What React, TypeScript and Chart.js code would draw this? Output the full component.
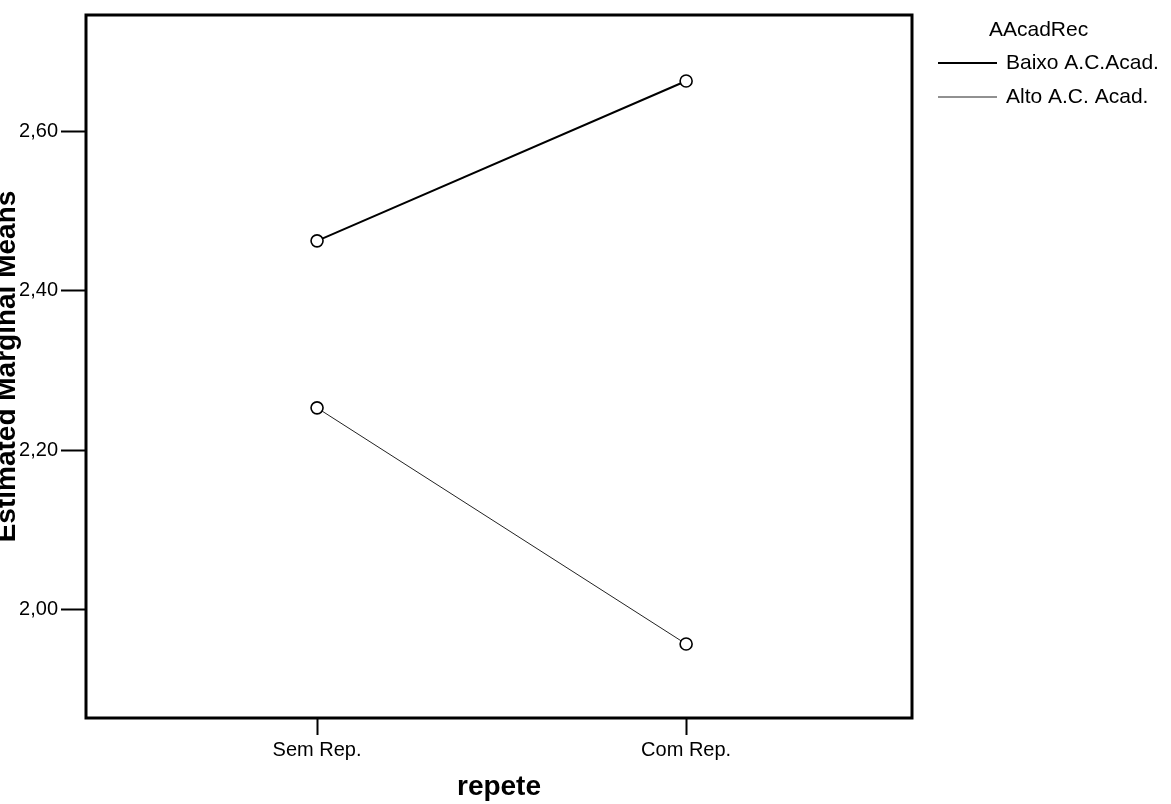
import React, { useEffect, useRef } from "react";
import { Chart, registerables } from "chart.js";

Chart.register(...registerables);

const categories = ["Sem Rep.", "Com Rep."];
const baixoValues = [2.463, 2.664];
const altoValues = [2.253, 1.956];
const yTickValues = [2.0, 2.2, 2.4, 2.6];
const seriesLabels = ["Baixo A.C.Acad.", "Alto A.C. Acad."];
const legendTitle = "AAcadRec";
const xTitle = "repete";
const yTitle = "Estimated Marginal Means";

const FONT = "'Liberation Sans', Arial, Helvetica, sans-serif";

const framePlugin = {
  id: "frame",
  afterDraw(chart: any) {
    const { ctx, chartArea } = chart;
    ctx.save();
    ctx.strokeStyle = "#000";
    ctx.lineWidth = 3;
    ctx.strokeRect(chartArea.left, chartArea.top, chartArea.right - chartArea.left, chartArea.bottom - chartArea.top);
    ctx.restore();
  },
};

const legendPlugin = {
  id: "spssLegend",
  afterDraw(chart: any) {
    const { ctx } = chart;
    ctx.save();
    ctx.fillStyle = "#000";
    ctx.font = `21px ${FONT}`;
    ctx.textBaseline = "middle";
    ctx.textAlign = "left";
    ctx.fillText(legendTitle, 989, 30);
    chart.data.datasets.forEach((ds: any, i: number) => {
      const y = 63 + i * 34;
      ctx.strokeStyle = ds.borderColor;
      ctx.lineWidth = ds.borderWidth;
      ctx.beginPath();
      ctx.moveTo(938, y);
      ctx.lineTo(997, y);
      ctx.stroke();
      ctx.fillText(ds.label, 1006, y);
    });
    ctx.restore();
  },
};

export default function App() {
  const ref = useRef<HTMLCanvasElement | null>(null);

  useEffect(() => {
    if (!ref.current) return;
    const mk = (vals: number[]) => categories.map((_, i) => ({ x: i + 1, y: vals[i] }));
    const chart = new Chart(ref.current, {
      type: "line",
      data: {
        datasets: [
          {
            label: seriesLabels[0],
            data: mk(baixoValues),
            borderColor: "#000",
            borderWidth: 2,
            pointRadius: 6,
            pointBorderWidth: 1.6,
            pointBackgroundColor: "#fff",
            pointBorderColor: "#000",
          },
          {
            label: seriesLabels[1],
            data: mk(altoValues),
            borderColor: "#222",
            borderWidth: 1,
            pointRadius: 6,
            pointBorderWidth: 1.6,
            pointBackgroundColor: "#fff",
            pointBorderColor: "#000",
          },
        ],
      },
      options: {
        animation: false,
        responsive: false,
        devicePixelRatio: 1,
        layout: { padding: { top: 15, right: 259, left: 0, bottom: 0 } },
        plugins: { legend: { display: false }, tooltip: { enabled: false } },
        scales: {
          x: {
            type: "linear",
            min: 0.374,
            max: 2.612,
            afterBuildTicks: (s: any) => {
              s.ticks = categories.map((_, i) => ({ value: i + 1 }));
            },
            afterFit: (s: any) => {
              s.height = 86;
            },
            ticks: {
              color: "#000",
              font: { family: FONT, size: 20 },
              padding: 3,
              callback: (v: any) => categories[Number(v) - 1] ?? "",
            },
            grid: { drawOnChartArea: false, drawTicks: true, tickLength: 17, tickColor: "#000", tickWidth: 2 },
            border: { display: false },
            title: {
              display: true,
              text: xTitle,
              color: "#000",
              font: { family: FONT, size: 28, weight: "bold" },
              padding: { top: 0, bottom: 0 },
            },
          },
          y: {
            type: "linear",
            min: 1.863,
            max: 2.747,
            afterBuildTicks: (s: any) => {
              s.ticks = yTickValues.map((v) => ({ value: v }));
            },
            afterFit: (s: any) => {
              s.width = 86;
            },
            ticks: {
              color: "#000",
              font: { family: FONT, size: 20 },
              padding: 3,
              callback: (v: any) => Number(v).toFixed(2).replace(".", ","),
            },
            grid: { drawOnChartArea: false, drawTicks: true, tickLength: 25, tickColor: "#000", tickWidth: 2 },
            border: { display: false },
            title: {
              display: true,
              text: yTitle,
              color: "#000",
              font: { family: FONT, size: 28, weight: "bold" },
              padding: { top: -10, bottom: 0 },
            },
          },
        },
      },
      plugins: [framePlugin, legendPlugin],
    });
    return () => chart.destroy();
  }, []);

  return (
    <div style={{ position: "absolute", left: 0, top: 0, width: 1171, height: 804, background: "#fff" }}>
      <canvas ref={ref} width={1171} height={804} style={{ display: "block" }} />
    </div>
  );
}
